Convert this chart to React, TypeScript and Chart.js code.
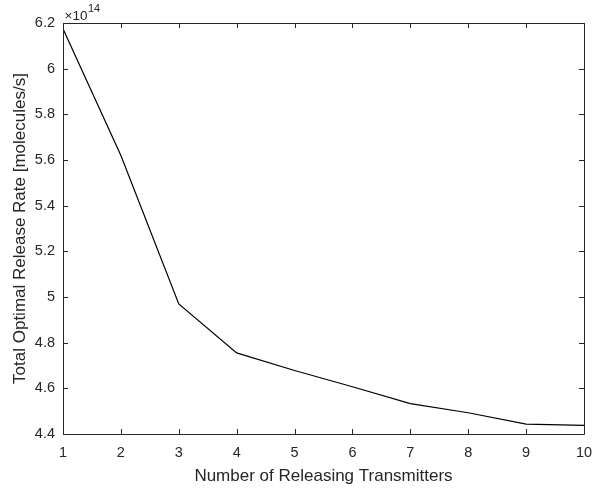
import React, { useEffect, useRef } from "react";
import { Chart, registerables } from "chart.js";

Chart.register(...registerables);

const transmitters = [1, 2, 3, 4, 5, 6, 7, 8, 9, 10];
const releaseRate = [6.175e14, 5.62e14, 4.97e14, 4.755e14, 4.678e14, 4.607e14, 4.533e14, 4.493e14, 4.443e14, 4.438e14];
const xTicks = [1, 2, 3, 4, 5, 6, 7, 8, 9, 10];
const yTicks = [4.4e14, 4.6e14, 4.8e14, 5.0e14, 5.2e14, 5.4e14, 5.6e14, 5.8e14, 6.0e14, 6.2e14];
const xTitle = "Number of Releasing Transmitters";
const yTitle = "Total Optimal Release Rate [molecules/s]";
const exponentBase = "\u00d710";
const exponent = "14";

const AXIS_COLOR = "#262626";
const FONT = "'Liberation Sans', Arial, Helvetica, sans-serif";

const boxPlugin = {
  id: "matlabBox",
  afterDraw(chart: any) {
    const { ctx, chartArea } = chart;
    const { left, right, top, bottom } = chartArea;
    const xs = chart.scales.x;
    const ys = chart.scales.y;
    ctx.save();
    ctx.strokeStyle = AXIS_COLOR;
    ctx.lineWidth = 1;
    ctx.beginPath();
    ctx.rect(Math.round(left) + 0.5, Math.round(top) + 0.5, Math.round(right - left), Math.round(bottom - top));
    ctx.stroke();
    const tl = 5;
    ctx.beginPath();
    for (const v of xTicks) {
      const px = Math.round(xs.getPixelForValue(v)) + 0.5;
      ctx.moveTo(px, bottom);
      ctx.lineTo(px, bottom - tl);
      ctx.moveTo(px, top);
      ctx.lineTo(px, top + tl);
    }
    for (const v of yTicks) {
      const py = Math.round(ys.getPixelForValue(v)) + 0.5;
      ctx.moveTo(left, py);
      ctx.lineTo(left + tl, py);
      ctx.moveTo(right, py);
      ctx.lineTo(right - tl, py);
    }
    ctx.stroke();
    ctx.fillStyle = AXIS_COLOR;
    ctx.textBaseline = "alphabetic";
    ctx.textAlign = "left";
    ctx.font = `13.5px ${FONT}`;
    const bx = left + 1.5;
    const by = top - 3.5;
    ctx.fillText(exponentBase, bx, by);
    const w = ctx.measureText(exponentBase).width;
    ctx.font = `11px ${FONT}`;
    ctx.fillText(exponent, bx + w + 0.5, by - 7.5);
    ctx.restore();
  },
};

export default function App() {
  const ref = useRef<HTMLCanvasElement | null>(null);
  useEffect(() => {
    document.body.style.margin = "0";
    const chart = new Chart(ref.current as HTMLCanvasElement, {
      type: "line",
      data: {
        datasets: [
          {
            data: transmitters.map((x, i) => ({ x, y: releaseRate[i] })),
            borderColor: "#000000",
            borderWidth: 1.2,
            pointRadius: 0,
            tension: 0,
            fill: false,
          },
        ],
      },
      options: {
        animation: false,
        responsive: false,
        maintainAspectRatio: false,
        layout: { padding: { left: 10, right: 8, top: 23, bottom: 0 } },
        plugins: { legend: { display: false }, tooltip: { enabled: false } },
        scales: {
          x: {
            type: "linear",
            min: 1,
            max: 10,
            afterBuildTicks: (s: any) => {
              s.ticks = xTicks.map((v) => ({ value: v }));
            },
            afterFit: (s: any) => {
              s.height = 55;
              s.paddingLeft = 0;
              s.paddingRight = 0;
            },
            grid: { display: false, drawTicks: false },
            border: { display: false },
            ticks: {
              color: AXIS_COLOR,
              font: { family: FONT, size: 14.5 },
              padding: 10,
              maxRotation: 0,
              autoSkip: false,
            },
            title: {
              display: true,
              text: xTitle,
              color: AXIS_COLOR,
              font: { family: FONT, size: 17 },
              padding: { top: 0, bottom: 2 },
            },
          },
          y: {
            type: "linear",
            min: 4.4e14,
            max: 6.2e14,
            afterBuildTicks: (s: any) => {
              s.ticks = yTicks.map((v) => ({ value: v }));
            },
            afterFit: (s: any) => {
              s.width = 53;
              s.paddingTop = 0;
              s.paddingBottom = 0;
            },
            grid: { display: false, drawTicks: false },
            border: { display: false },
            ticks: {
              color: AXIS_COLOR,
              font: { family: FONT, size: 14.5 },
              padding: 8,
              autoSkip: false,
              callback: (v: any) => {
                const n = Math.round((Number(v) / 1e14) * 10) / 10;
                return String(n);
              },
            },
            title: {
              display: true,
              text: yTitle,
              color: AXIS_COLOR,
              font: { family: FONT, size: 17 },
              padding: 0,
            },
          },
        },
      },
      plugins: [boxPlugin],
    });
    return () => chart.destroy();
  }, []);
  return (
    <div style={{ width: 592, height: 489, background: "#fff" }}>
      <canvas ref={ref} width={592} height={489} style={{ display: "block" }} />
    </div>
  );
}
